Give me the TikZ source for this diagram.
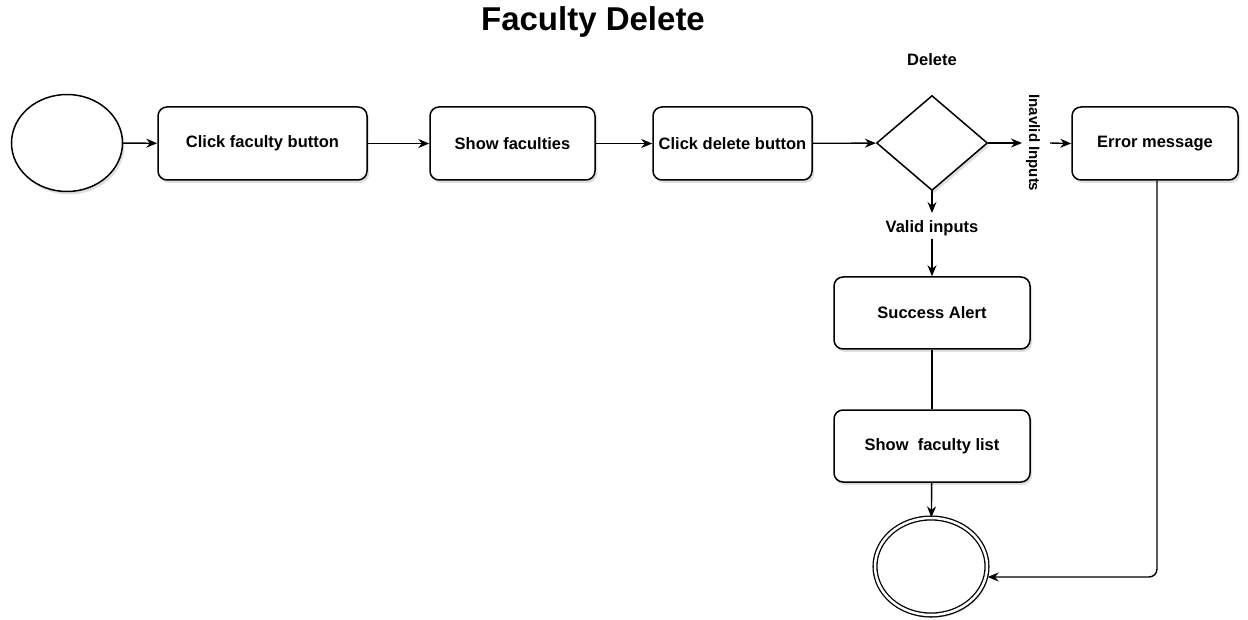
\documentclass[tikz,border=0pt]{standalone}
\usepackage{fontspec}
\setmainfont{Liberation Sans}
\usetikzlibrary{shapes.geometric,shadows,arrows.meta}
\begin{document}
\begin{tikzpicture}[x=1pt,y=-1pt,
  shd/.style={drop shadow={shadow xshift=2pt,shadow yshift=-3pt,fill=black!25,opacity=0.5}},
  stepbox/.style={draw,line width=1.5pt,rounded corners=9pt,fill=white,shd,font=\bfseries\fontsize{16.5}{19}\selectfont,inner sep=0pt},
  arr/.style={-{Stealth[length=11pt,width=9pt]},line width=1.4pt},
  lbl/.style={font=\bfseries\fontsize{16.5}{19}\selectfont}]
\useasboundingbox (0,0) rectangle (1248,620);
\node[font=\bfseries\fontsize{33}{38}\selectfont] (title) at (593,22) {Faculty Delete};
\node[draw,line width=1.5pt,ellipse,fill=white,shd,minimum width=111pt,minimum height=97pt,inner sep=0pt] (start) at (67,143) {};
\node[stepbox,minimum width=209pt,minimum height=73pt] (b1) at (262.5,143.5) {Click faculty button};
\node[stepbox,minimum width=165pt,minimum height=73pt] (b2) at (512.5,143.5) {Show faculties};
\node[stepbox,minimum width=159pt,minimum height=73pt] (b3) at (732.5,143.5) {Click delete button};
\node[draw,line width=1.5pt,diamond,fill=white,shd,minimum width=111pt,minimum height=95pt,inner sep=0pt,aspect=1.17] (dec) at (932,143) {};
\node[lbl] (dlbl) at (932,60) {Delete};
\node[stepbox,minimum width=166pt,minimum height=73pt] (err) at (1155,143.5) {Error message};
\node[font=\bfseries\fontsize{15}{18}\selectfont,rotate=-90] (inv) at (1033,143) {Inavlid Inputs};
\coordinate (invin) at (1022,143);
\coordinate (invout) at (1050,143);
\node[lbl] (val) at (932,228) {Valid inputs};
\coordinate (valin) at (932,213);
\node[stepbox,minimum width=196pt,minimum height=72pt] (succ) at (932,313) {Success Alert};
\node[stepbox,minimum width=196pt,minimum height=72pt] (list) at (932,446) {Show\ \ faculty list};
\node[draw,line width=1.3pt,ellipse,fill=white,shd,minimum width=112pt,minimum height=97pt,double,double distance=2.5pt,inner sep=0pt] (end) at (931,566.5) {};
\draw[arr] (start) -- (b1);
\draw[arr] (b1) -- (b2);
\draw[arr] (b2) -- (b3);
\draw[arr] (b3) -- (dec);
\draw[arr] (dec.east) -- (invin);
\draw[arr] (invout) -- (err.west);
\draw[arr] (dec.south) -- (valin);
\draw[arr] (val.south) -- (succ.north);
\draw[line width=1.4pt] (succ) -- (list);
\draw[arr] (list) -- (end);
\draw[arr,rounded corners=8pt] (err.south -| 1157,0) -- (1157,577) -- (end.east |- 0,577);
\end{tikzpicture}
\end{document}
